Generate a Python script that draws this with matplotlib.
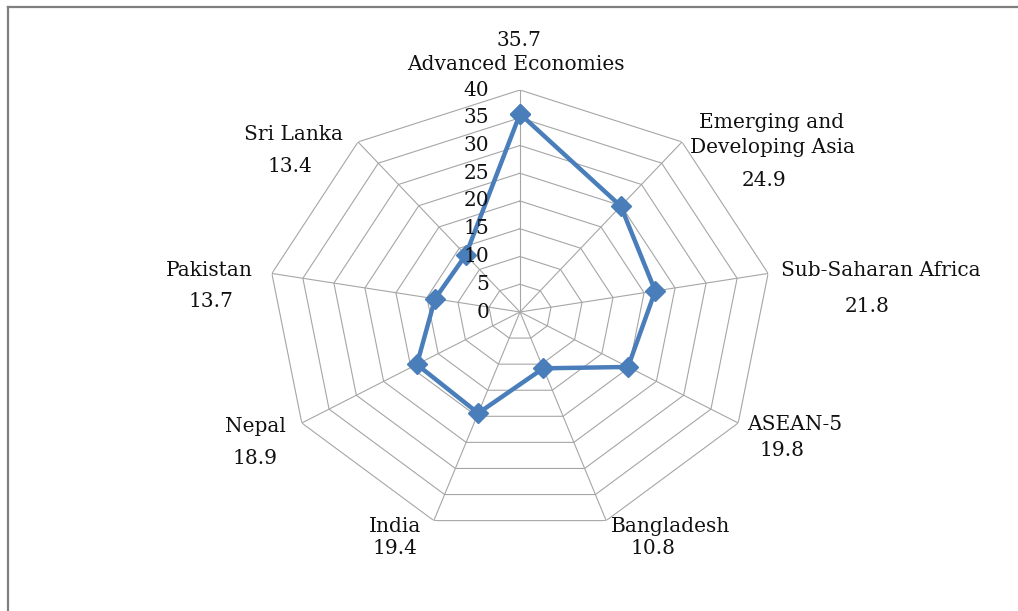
import numpy as np
import matplotlib
matplotlib.use("Agg")
import matplotlib.pyplot as plt
from matplotlib.lines import Line2D
from matplotlib.transforms import offset_copy

categories = ["Advanced Economies", "Emerging and\nDeveloping Asia", "Sub-Saharan Africa",
              "ASEAN-5", "Bangladesh", "India", "Nepal", "Pakistan", "Sri Lanka"]
values = [35.7, 24.9, 21.8, 19.8, 10.8, 19.4, 18.9, 13.7, 13.4]
value_labels = ["35.7", "24.9", "21.8", "19.8", "10.8", "19.4", "18.9", "13.7", "13.4"]
rings = [5, 10, 15, 20, 25, 30, 35, 40]
tick_labels = ["0", "5", "10", "15", "20", "25", "30", "35", "40"]

W, H = 1018, 611
fig = plt.figure(figsize=(W / 100, H / 100), dpi=100)
FONT = "DejaVu Serif"
FS = 14.5

# axes: center (520,312) px, vertical radius 222 px, horizontal stretch 1.135
cx, cy, R, sx = 520, 312, 222, 1.135
left = (cx - R * sx) / W
bottom = (H - cy - R) / H
ax = fig.add_axes([left, bottom, 2 * R * sx / W, 2 * R / H], projection="polar")
ax.set_aspect("auto")
ax.set_theta_zero_location("N")
ax.set_theta_direction(-1)
ax.set_ylim(0, 40)
ax.grid(False)
ax.set_xticks([])
ax.set_yticks([])
ax.spines["polar"].set_visible(False)
ax.patch.set_alpha(0)

n = len(categories)
theta = np.arange(n) * 2 * np.pi / n
grid_c = "#a6a6a6"
for r in rings:
    ax.plot(np.append(theta, theta[0]), [r] * (n + 1), color=grid_c, lw=0.8, zorder=1)
for t in theta:
    ax.plot([t, t], [0, 40], color=grid_c, lw=0.8, zorder=1)

ax.plot(np.append(theta, theta[0]), values + [values[0]], color="#4a7ebb", lw=3.2,
        marker="D", markersize=10, markerfacecolor="#4a7ebb", markeredgecolor="#4a7ebb",
        zorder=3, clip_on=False)

# radial tick labels
toff = offset_copy(ax.transData, fig=fig, x=-31, y=0, units="dots")
for r, lab in zip([0] + rings, tick_labels):
    ax.text(0, r, lab, transform=toff, ha="right", va="center", fontsize=FS,
            family=FONT, color="#111111", zorder=4)

# category and value labels (pixel positions of label centres)
name_pos = [(516, 65), (772, 135), (881, 270), (795, 424), (670, 527),
            (395, 527), (255, 426), (209, 270), (293, 135)]
val_pos = [(519, 40), (764, 181), (867, 306), (782, 451), (653, 549),
           (395, 549), (255, 459), (211, 302), (290, 166)]
for name, (x, y) in zip(categories, name_pos):
    fig.text(x / W, 1 - y / H, name, ha="center", va="center", fontsize=FS,
             family=FONT, color="#111111", linespacing=1.45)
for v, (x, y) in zip(value_labels, val_pos):
    fig.text(x / W, 1 - y / H, v, ha="center", va="center", fontsize=FS,
             family=FONT, color="#111111")

# outer frame (left and top edges)
fig.add_artist(Line2D([8 / W, 8 / W], [0, 1 - 7 / H], transform=fig.transFigure,
                      color="#7f7f7f", lw=1.6))
fig.add_artist(Line2D([8 / W, 1], [1 - 7 / H, 1 - 7 / H], transform=fig.transFigure,
                      color="#7f7f7f", lw=1.6))

fig.savefig("out.png", dpi=100)
